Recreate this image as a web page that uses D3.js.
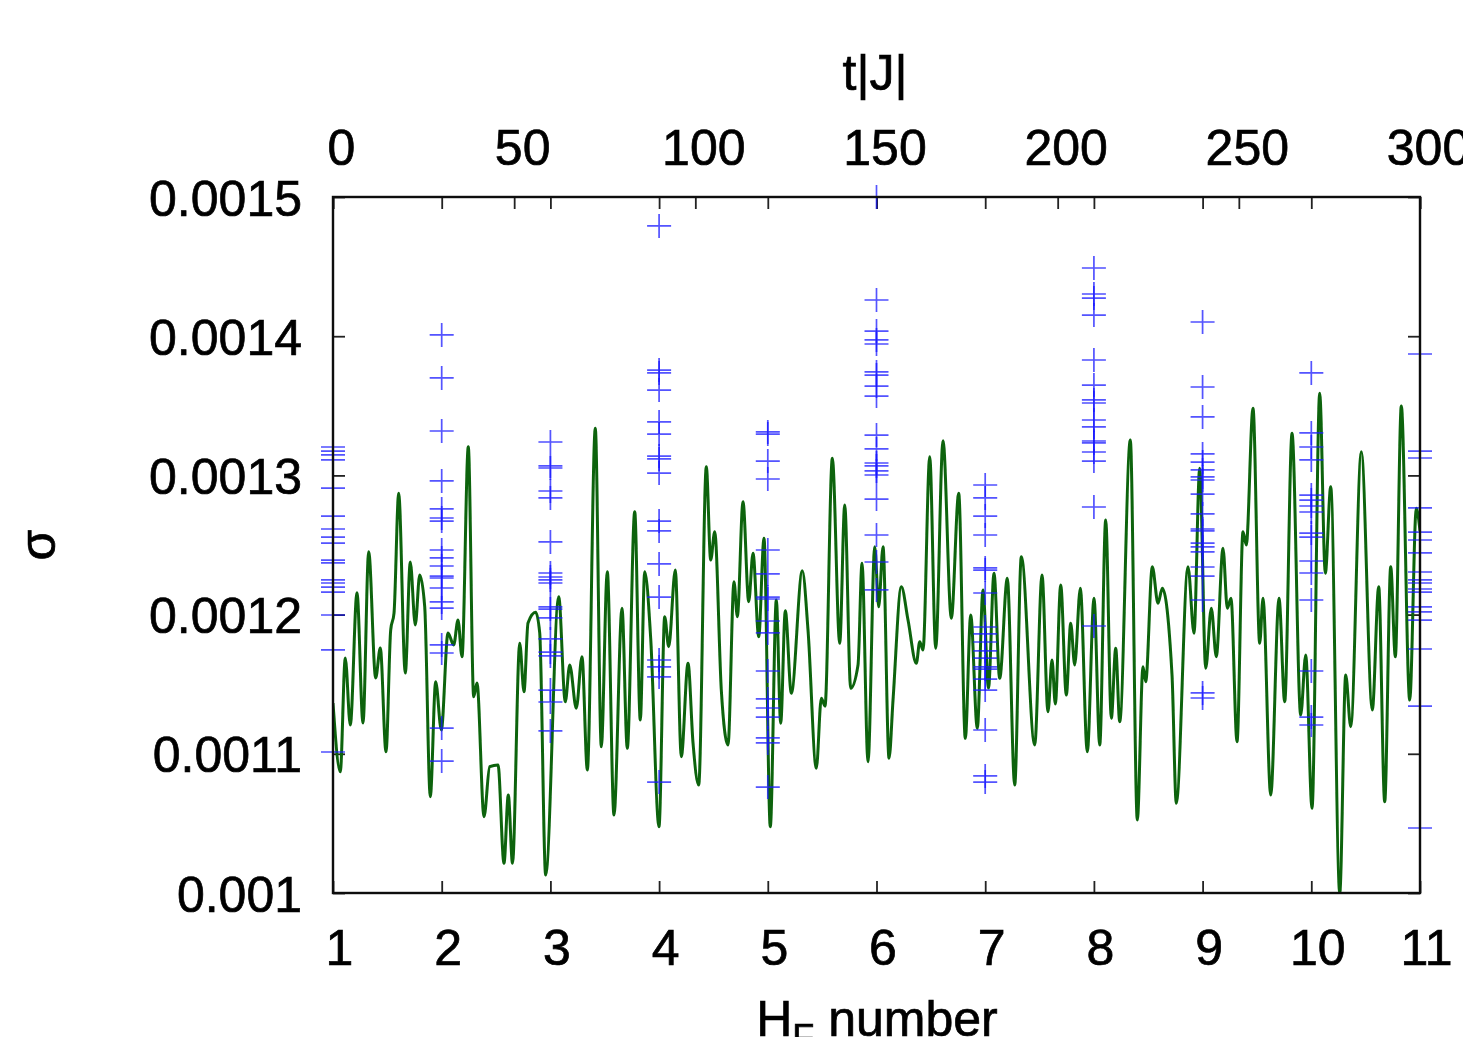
<!DOCTYPE html>
<html>
<head>
<meta charset="utf-8">
<script src="https://cdn.jsdelivr.net/npm/d3@7"></script>
<style>
  html, body { margin: 0; padding: 0; background: #fff; }
  svg { display: block; }
  text { font-family: "Liberation Sans", Arial, Helvetica, sans-serif; fill: #000; }
</style>
</head>
<body>
<svg id="chart" width="1463" height="1037"></svg>
<script>
// Bottom axis: H_F number; top axis: time t|J|
const hTicks = [1, 2, 3, 4, 5, 6, 7, 8, 9, 10, 11];
const tTicks = [0, 50, 100, 150, 200, 250, 300];
const sigmaTicks = [0.0010, 0.0011, 0.0012, 0.0013, 0.0014, 0.0015];
const sigmaTickLabels = ["0.001", "0.0011", "0.0012", "0.0013", "0.0014", "0.0015"];

// Time trace of sigma (green curve)
const lineT = [
  0, 2.01, 3.39, 4.77, 6.62, 8.28, 9.85, 11.78, 13.05, 14.63,
  15.92, 16.84, 18.13, 19.95, 21.33, 22.71, 23.93, 25.31, 26.85, 28.34,
  29.89, 31.74, 33.31, 34.50, 35.60, 37.34, 38.83, 39.74, 41.68, 43.25,
  45.54, 47.19, 48.38, 49.54, 51.53, 52.71, 53.82, 55.94, 57.05, 58.70,
  62.29, 64.11, 65.33, 67.15, 68.72, 70.19, 72.39, 74.05, 75.70, 77.55,
  79.76, 81.22, 83.27, 84.81, 86.03, 87.68, 89.97, 91.55, 92.65, 94.47,
  96.13, 97.98, 99.36, 100.93, 103.03, 104.24, 105.35, 107.17, 109.02, 110.67,
  111.59, 113.16, 114.73, 115.92, 117.49, 118.95, 120.69, 122.35, 123.56, 124.83,
  126.49, 129.52, 131.10, 133.39, 134.77, 135.79, 137.81, 139.85, 141.23, 142.88,
  144.90, 146.00, 147.66, 149.51, 150.61, 151.80, 153.46, 154.56, 156.85, 158.70,
  160.99, 161.93, 162.84, 164.69, 166.34, 168.36, 170.65, 172.69, 174.51, 176.00,
  177.82, 179.39, 180.91, 182.43, 184.00, 186.10, 188.14, 189.97, 193.66, 195.68,
  197.33, 198.44, 199.35, 200.84, 202.39, 203.60, 204.70, 206.25, 208.18, 210.03,
  211.61, 213.26, 214.81, 216.02, 217.12, 220.05, 221.98, 223.55, 224.30, 226.12,
  227.69, 228.88, 231.56, 232.74, 235.97, 237.63, 239.20, 240.86, 242.40, 243.78,
  245.63, 246.82, 247.84, 249.50, 251.15, 252.06, 253.91, 255.76, 256.67, 258.80,
  261.09, 262.66, 264.68, 267.08, 268.46, 270.20, 272.32, 273.87, 275.36, 277.85,
  279.50, 280.88, 283.80, 286.84, 288.60, 290.26, 291.92, 293.19, 294.84, 297.16,
  298.98, 300
];
const lineSigma = [
  11.365e-4, 10.871e-4, 11.688e-4, 11.207e-4, 12.157e-4, 11.221e-4, 12.452e-4, 11.545e-4, 11.760e-4, 11.015e-4,
  11.889e-4, 12.011e-4, 12.871e-4, 11.580e-4, 12.378e-4, 11.925e-4, 12.284e-4, 12.057e-4, 10.692e-4, 11.518e-4,
  11.171e-4, 11.868e-4, 11.782e-4, 11.961e-4, 11.698e-4, 13.206e-4, 11.410e-4, 11.509e-4, 10.548e-4, 10.907e-4,
  10.920e-4, 10.213e-4, 10.704e-4, 10.213e-4, 11.794e-4, 11.446e-4, 11.940e-4, 12.017e-4, 11.868e-4, 10.129e-4,
  12.129e-4, 11.374e-4, 11.638e-4, 11.327e-4, 11.698e-4, 10.884e-4, 13.338e-4, 11.051e-4, 12.308e-4, 10.560e-4,
  12.045e-4, 11.039e-4, 12.739e-4, 11.243e-4, 12.308e-4, 11.830e-4, 10.476e-4, 11.985e-4, 11.769e-4, 12.320e-4,
  10.979e-4, 11.650e-4, 11.078e-4, 10.776e-4, 13.062e-4, 12.392e-4, 12.596e-4, 11.458e-4, 11.063e-4, 12.236e-4,
  11.985e-4, 12.811e-4, 12.093e-4, 12.440e-4, 11.841e-4, 12.548e-4, 10.476e-4, 12.105e-4, 11.219e-4, 12.028e-4,
  11.435e-4, 12.315e-4, 11.889e-4, 10.896e-4, 11.399e-4, 11.343e-4, 13.123e-4, 11.794e-4, 12.787e-4, 11.471e-4,
  11.638e-4, 12.368e-4, 10.943e-4, 12.488e-4, 12.057e-4, 12.488e-4, 10.968e-4, 11.386e-4, 12.200e-4, 11.961e-4,
  11.650e-4, 11.805e-4, 11.746e-4, 13.134e-4, 11.758e-4, 13.249e-4, 11.973e-4, 12.871e-4, 11.111e-4, 11.997e-4,
  11.183e-4, 12.177e-4, 11.473e-4, 12.297e-4, 11.542e-4, 12.261e-4, 10.776e-4, 12.416e-4, 11.063e-4, 12.284e-4,
  11.302e-4, 11.674e-4, 11.358e-4, 12.213e-4, 11.422e-4, 11.937e-4, 11.638e-4, 12.189e-4, 11.015e-4, 12.117e-4,
  11.063e-4, 12.680e-4, 11.255e-4, 11.758e-4, 11.231e-4, 13.254e-4, 10.524e-4, 11.626e-4, 11.518e-4, 12.344e-4,
  12.081e-4, 12.189e-4, 11.566e-4, 10.644e-4, 12.344e-4, 11.866e-4, 13.051e-4, 11.614e-4, 12.045e-4, 11.698e-4,
  12.476e-4, 12.045e-4, 12.117e-4, 11.087e-4, 12.596e-4, 12.500e-4, 13.482e-4, 11.794e-4, 12.117e-4, 10.704e-4,
  12.117e-4, 11.374e-4, 13.302e-4, 11.279e-4, 11.710e-4, 10.608e-4, 13.590e-4, 12.297e-4, 12.919e-4, 10.000e-4,
  11.566e-4, 11.195e-4, 13.170e-4, 11.315e-4, 12.200e-4, 10.656e-4, 12.344e-4, 11.698e-4, 13.499e-4, 11.386e-4,
  12.764e-4, 12.600e-4
];

// Sigma values for each H_F (blue crosses), one list per H_F number
const crossH = [1, 2, 3, 4, 5, 6, 7, 8, 9, 10, 11];
const crossSigma = [
  [13.204e-4, 13.175e-4, 13.147e-4, 13.111e-4, 12.909e-4, 12.708e-4, 12.615e-4, 12.557e-4, 12.514e-4, 12.392e-4,
   12.371e-4, 12.249e-4, 12.227e-4, 12.198e-4, 12.162e-4, 11.997e-4, 11.746e-4, 11.013e-4],
  [14.009e-4, 13.700e-4, 13.319e-4, 12.960e-4, 12.759e-4, 12.694e-4, 12.672e-4, 12.464e-4, 12.407e-4, 12.349e-4,
   12.277e-4, 12.263e-4, 12.191e-4, 12.091e-4, 12.047e-4, 11.782e-4, 11.724e-4, 11.185e-4, 10.948e-4],
  [13.240e-4, 13.068e-4, 13.053e-4, 12.888e-4, 12.838e-4, 12.522e-4, 12.299e-4, 12.270e-4, 12.249e-4, 12.227e-4,
   12.055e-4, 12.040e-4, 11.976e-4, 11.825e-4, 11.731e-4, 11.703e-4, 11.458e-4, 11.372e-4, 11.164e-4],
  [14.792e-4, 13.757e-4, 13.736e-4, 13.613e-4, 13.384e-4, 13.297e-4, 13.139e-4, 13.118e-4, 13.017e-4, 12.672e-4,
   12.601e-4, 12.364e-4, 12.126e-4, 11.674e-4, 11.624e-4, 11.552e-4, 10.797e-4],
  [13.312e-4, 13.297e-4, 13.103e-4, 12.974e-4, 12.464e-4, 12.292e-4, 12.126e-4, 12.112e-4, 11.954e-4, 11.868e-4,
   11.595e-4, 11.394e-4, 11.329e-4, 11.264e-4, 11.114e-4, 11.078e-4, 10.761e-4],
  [15.000e-4, 14.260e-4, 14.037e-4, 13.973e-4, 13.944e-4, 13.743e-4, 13.721e-4, 13.642e-4, 13.570e-4, 13.290e-4,
   13.190e-4, 13.089e-4, 13.068e-4, 13.032e-4, 13.003e-4, 12.830e-4, 12.572e-4, 12.378e-4, 12.177e-4],
  [12.931e-4, 12.838e-4, 12.708e-4, 12.572e-4, 12.335e-4, 12.320e-4, 12.155e-4, 11.911e-4, 11.861e-4, 11.803e-4,
   11.739e-4, 11.688e-4, 11.624e-4, 11.609e-4, 11.537e-4, 11.458e-4, 11.171e-4, 10.841e-4, 10.797e-4],
  [14.490e-4, 14.303e-4, 14.274e-4, 14.152e-4, 13.829e-4, 13.649e-4, 13.542e-4, 13.520e-4, 13.398e-4, 13.348e-4,
   13.247e-4, 13.233e-4, 13.168e-4, 13.103e-4, 12.773e-4, 11.918e-4],
  [14.102e-4, 13.635e-4, 13.420e-4, 13.154e-4, 13.096e-4, 13.039e-4, 12.989e-4, 12.967e-4, 12.866e-4, 12.723e-4,
   12.615e-4, 12.601e-4, 12.514e-4, 12.486e-4, 12.450e-4, 12.342e-4, 12.277e-4, 12.105e-4, 11.437e-4, 11.401e-4],
  [13.736e-4, 13.305e-4, 13.204e-4, 13.111e-4, 12.859e-4, 12.823e-4, 12.780e-4, 12.737e-4, 12.586e-4, 12.557e-4,
   12.385e-4, 12.299e-4, 12.105e-4, 11.595e-4, 11.264e-4, 11.207e-4],
  [13.872e-4, 13.175e-4, 13.125e-4, 12.766e-4, 12.593e-4, 12.536e-4, 12.443e-4, 12.306e-4, 12.249e-4, 12.227e-4,
   12.184e-4, 12.162e-4, 12.055e-4, 12.019e-4, 11.961e-4, 11.753e-4, 11.343e-4, 10.467e-4]
];

const svg = d3.select("#chart");
const W = 1463, H = 1037;
const plot = { left: 333, right: 1420, top: 197, bottom: 893 };
const tickLen = 12;
const fontSize = 50;

svg.append("rect").attr("width", W).attr("height", H).attr("fill", "#fff");

const defs = svg.append("defs");
defs.append("clipPath").attr("id", "plotClip")
  .append("rect")
  .attr("x", plot.left).attr("y", plot.top)
  .attr("width", plot.right - plot.left).attr("height", plot.bottom - plot.top);
// light softening of all strokes and glyphs
defs.append("filter").attr("id", "soften")
  .attr("x", "-5%").attr("y", "-5%").attr("width", "110%").attr("height", "110%")
  .append("feGaussianBlur").attr("stdDeviation", 0.55);

const root = svg.append("g").attr("filter", "url(#soften)");

const xH = d3.scaleLinear().domain([1, 11]).range([plot.left, plot.right]);
const xT = d3.scaleLinear().domain([0, 300]).range([plot.left, plot.right]);
const y = d3.scaleLinear().domain([0.0010, 0.0015]).range([plot.bottom, plot.top]);

function styleAxis(g) {
  g.select(".domain").remove();
  g.selectAll(".tick line").attr("stroke", "#222").attr("stroke-width", 1.8);
  g.selectAll(".tick text")
    .attr("font-size", fontSize)
    .attr("font-family", "'Liberation Sans', Arial, Helvetica, sans-serif")
    .attr("fill", "#000")
    .attr("stroke", "#000")
    .attr("stroke-width", 0.7);
}

// Bottom axis (H_F number), ticks pointing inward
const gBottom = root.append("g")
  .attr("transform", `translate(0,${plot.bottom})`)
  .call(d3.axisBottom(xH).tickValues(hTicks).tickSize(-tickLen).tickFormat(d3.format("d")));
styleAxis(gBottom);
gBottom.selectAll(".tick text").attr("y", 72).attr("dy", null).attr("x", 6);

// Top axis (t|J|)
const gTop = root.append("g")
  .attr("transform", `translate(0,${plot.top})`)
  .call(d3.axisTop(xT).tickValues(tTicks).tickSize(-tickLen).tickFormat(d3.format("d")));
styleAxis(gTop);
gTop.selectAll(".tick text").attr("y", -32).attr("dy", null).attr("x", 8);

// Mirrored H_F ticks along the top edge
const gTopMirror = root.append("g")
  .attr("transform", `translate(0,${plot.top})`)
  .call(d3.axisTop(xH).tickValues(hTicks).tickSize(-tickLen).tickFormat(""));
styleAxis(gTopMirror);

// Left axis (sigma)
const gLeft = root.append("g")
  .attr("transform", `translate(${plot.left},0)`)
  .call(d3.axisLeft(y).tickValues(sigmaTicks).tickSize(-tickLen)
    .tickFormat((d, i) => sigmaTickLabels[i]));
styleAxis(gLeft);
gLeft.selectAll(".tick text").attr("x", -31).attr("dy", "0.36em");

// Mirrored sigma ticks on the right edge
const gRight = root.append("g")
  .attr("transform", `translate(${plot.right},0)`)
  .call(d3.axisRight(y).tickValues(sigmaTicks).tickSize(-tickLen).tickFormat(""));
styleAxis(gRight);

// Green sigma(t) trace
const linePts = lineT.map((t, i) => [t, lineSigma[i]]);
root.append("path")
  .datum(linePts)
  .attr("clip-path", "url(#plotClip)")
  .attr("fill", "none")
  .attr("stroke", "#0a640a")
  .attr("stroke-width", 3)
  .attr("stroke-linejoin", "round")
  .attr("d", d3.line()
    .x(d => xT(d[0]))
    .y(d => y(d[1]))
    .curve(d3.curveMonotoneX));

// Blue crosses
const crossPts = [];
crossH.forEach((h, i) => crossSigma[i].forEach(s => crossPts.push([h, s])));
const arm = 12;
root.append("g")
  .selectAll("path")
  .data(crossPts)
  .join("path")
  .attr("transform", d => `translate(${xH(d[0])},${y(d[1])})`)
  .attr("d", `M${-arm},0H${arm}M0,${-arm}V${arm}`)
  .attr("fill", "none")
  .attr("stroke", "#1a1aff")
  .attr("stroke-opacity", 0.75)
  .attr("stroke-width", 1.7);

// Plot frame
root.append("rect")
  .attr("x", plot.left).attr("y", plot.top)
  .attr("width", plot.right - plot.left).attr("height", plot.bottom - plot.top)
  .attr("fill", "none").attr("stroke", "#111").attr("stroke-width", 2.4);

// Axis titles
const titleStyle = sel => sel
  .attr("font-size", fontSize)
  .attr("stroke", "#000")
  .attr("stroke-width", 0.7);

root.append("text")
  .attr("x", 875).attr("y", 90)
  .attr("text-anchor", "middle")
  .call(titleStyle)
  .text("t|J|");

const xTitle = root.append("text")
  .attr("x", 877).attr("y", 1036)
  .attr("text-anchor", "middle")
  .call(titleStyle);
xTitle.append("tspan").text("H");
xTitle.append("tspan").attr("font-size", 36).attr("dy", 14).text("F");
xTitle.append("tspan").attr("dy", -14).text(" number");

root.append("text")
  .attr("transform", "translate(55,545) rotate(-90)")
  .attr("text-anchor", "middle")
  .call(titleStyle)
  .text("σ");
</script>
</body>
</html>
